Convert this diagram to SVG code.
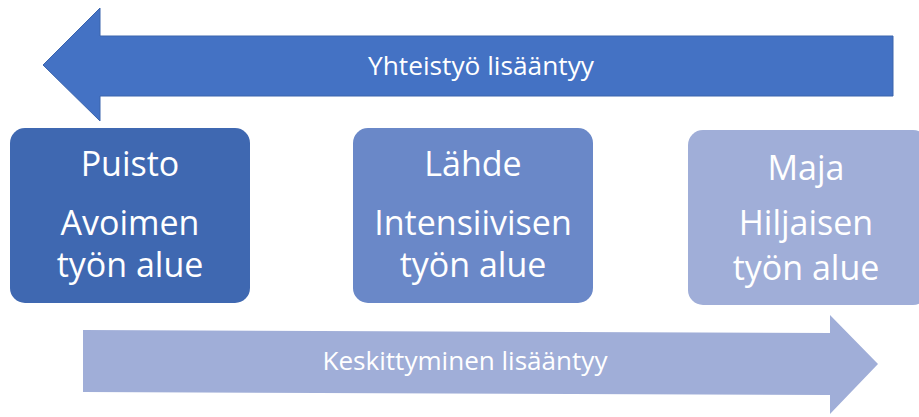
<svg xmlns="http://www.w3.org/2000/svg" width="919" height="417" viewBox="0 0 919 417">
<style>
.t{font-family:"Open Sans","Liberation Sans",sans-serif;fill:#fff;text-anchor:middle}
.big{font-size:34px}
.sm{font-size:25px}
</style>
<rect width="919" height="417" fill="#fff"/>
<g id="connectors">
<g id="arrow-top">
<polygon points="43,65 100,8 100,36 893,36 893,96 100,96 100,121" fill="#4472C4" stroke="#3B64AD" stroke-width="1"/>
<text class="t sm" x="481" y="75" textLength="226" lengthAdjust="spacingAndGlyphs">Yhteistyö lisääntyy</text>
</g>
<g id="arrow-bottom">
<polygon points="83,330 830,333 830,315 878,364 830,414 830,395 83,392" fill="#A0AED8"/>
<text class="t sm" x="465" y="370" textLength="285" lengthAdjust="spacingAndGlyphs">Keskittyminen lisääntyy</text>
</g>
</g>
<g id="puisto">
<rect x="10" y="128" width="240" height="175" rx="15" fill="#3F68B1"/>
<text class="t big" x="130" y="176">Puisto</text>
<text class="t big" x="130" y="235">Avoimen</text>
<text class="t big" x="130" y="277">työn alue</text>
</g>
<g id="lahde">
<rect x="353" y="128" width="240" height="175" rx="15" fill="#6A88C8"/>
<text class="t big" x="473" y="176">Lähde</text>
<text class="t big" x="473" y="235">Intensiivisen</text>
<text class="t big" x="473" y="277">työn alue</text>
</g>
<g id="maja">
<rect x="688" y="130" width="240" height="175" rx="15" fill="#A0AED8"/>
<text class="t big" x="806" y="180">Maja</text>
<text class="t big" x="806" y="235">Hiljaisen</text>
<text class="t big" x="806" y="280">työn alue</text>
</g>
</svg>
